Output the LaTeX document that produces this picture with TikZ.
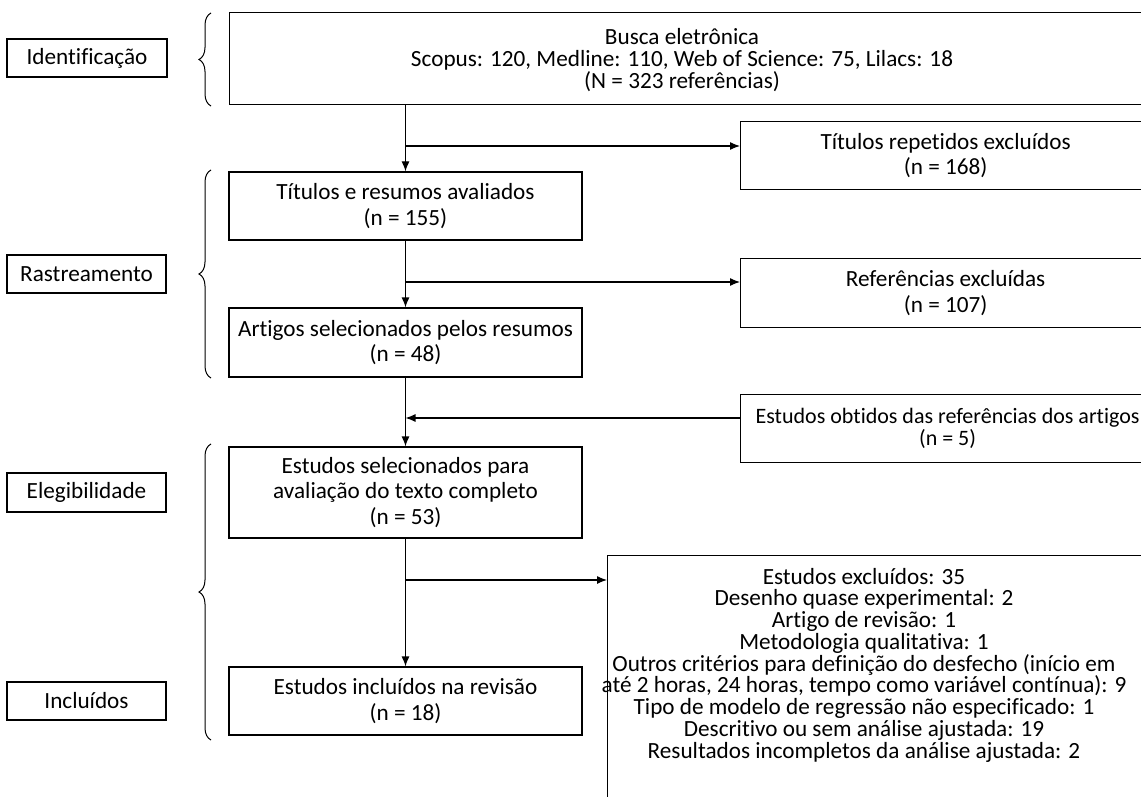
\documentclass[tikz,border=0pt]{standalone}
\usepackage{fontspec}
\setmainfont[Ligatures=NoCommon]{Carlito}
\usetikzlibrary{arrows.meta,decorations.pathreplacing}
\begin{document}
\begin{tikzpicture}[x=1pt,y=-1pt, line width=1.2pt,
  box/.style={draw, line width=1.2pt, inner sep=0pt, align=center, font=\fontsize{23.2}{25.5}\selectfont},
  txt/.style={inner sep=0pt, align=center, font=\fontsize{23.2}{21.75}\selectfont},
  arr/.style={-{Latex[length=10pt,width=8pt]}},
  brc/.style={decorate, decoration={brace, amplitude=12pt}, line width=1pt}]
\useasboundingbox (0,0) rectangle (1141,797);
% stage labels
\node[box, minimum width=160pt, minimum height=38pt] (lid) at (87,58) {Identificação};
\node[box, minimum width=159pt, minimum height=38pt] (lra) at (86.5,274) {Rastreamento};
\node[box, minimum width=159pt, minimum height=39pt] (lel) at (86.5,492.5) {Elegibilidade};
\node[box, minimum width=159pt, minimum height=38pt] (lin) at (86.5,701) {Incluídos};
% braces
\draw[brc] (211,106) -- (211,13);
\draw[brc] (211,378) -- (211,170);
\draw[brc] (211,740) -- (211,444);
% main boxes
\node[box, minimum width=921pt, minimum height=92pt, anchor=north west] (busca) at (229,12) {};
\node[txt, font=\fontsize{23.2}{22}\selectfont] (buscat) at (682,60) {Busca eletrônica\\Scopus: 120, Medline: 110, Web of Science: 75, Lilacs: 18\\(N = 323 referências)};
\node[box, minimum width=353pt, minimum height=68pt] (tit) at (405.5,206) {Títulos e resumos avaliados\\(n = 155)};
\node[box, minimum width=353pt, minimum height=69pt] (art) at (405.5,342.5) {Artigos selecionados pelos resumos\\(n = 48)};
\node[box, minimum width=353pt, minimum height=91pt] (sel) at (405.5,492.5) {Estudos selecionados para\\avaliação do texto completo\\(n = 53)};
\node[box, minimum width=353pt, minimum height=68pt] (inc) at (405.5,701) {Estudos incluídos na revisão\\(n = 18)};
% side boxes
\node[box, minimum width=410pt, minimum height=68pt, anchor=north west] (rep) at (740,121) {Títulos repetidos excluídos\\(n = 168)};
\node[box, minimum width=410pt, minimum height=69pt, anchor=north west] (ref) at (740,258) {Referências excluídas\\(n = 107)};
\node[box, minimum width=414pt, minimum height=68pt, anchor=north west, font=\fontsize{22}{22}\selectfont] (obt) at (740,394) {Estudos obtidos das referências dos artigos\\(n = 5)};
\node[box, minimum width=600pt, minimum height=300pt, anchor=north west] (exc) at (607,555) {};
\node[txt] (exct) at (864,665) {Estudos excluídos: 35\\Desenho quase experimental: 2\\Artigo de revisão: 1\\Metodologia qualitativa: 1\\Outros critérios para definição do desfecho (início em\\até 2 horas, 24 horas, tempo como variável contínua): 9\\Tipo de modelo de regressão não especificado: 1\\Descritivo ou sem análise ajustada: 19\\Resultados incompletos da análise ajustada: 2};
% junctions
\coordinate (j1) at (405.5,146);
\coordinate (j2) at (405.5,282);
\coordinate (j3) at (405.5,418);
\coordinate (j4) at (405.5,580);
% connectors
\draw[arr] (busca.south -| tit.north) -- (tit.north);
\draw[arr] (j1) -- (j1 -| rep.west);
\draw[arr] (tit.south) -- (art.north);
\draw[arr] (j2) -- (j2 -| ref.west);
\draw[arr] (art.south) -- (sel.north);
\draw[arr] (j3 -| obt.west) -- (j3);
\draw[arr] (sel.south) -- (inc.north);
\draw[arr] (j4) -- (j4 -| exc.west);
\end{tikzpicture}
\end{document}
